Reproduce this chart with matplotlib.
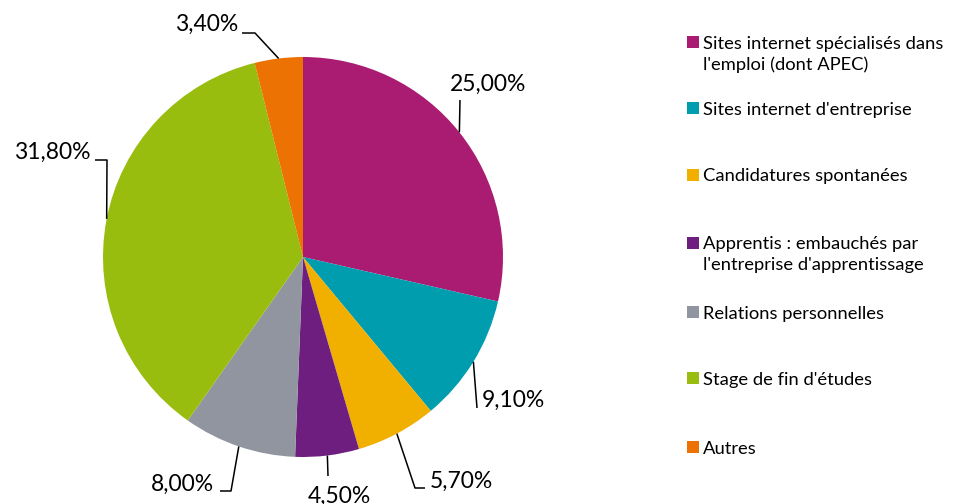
import numpy as np
import matplotlib
matplotlib.use("Agg")
import matplotlib.pyplot as plt
from matplotlib.patches import Rectangle

plt.rcParams['font.family'] = ['Lato', 'DejaVu Sans']

# donnees
categories = [
    "Sites internet spécialisés dans\nl'emploi (dont APEC)",
    "Sites internet d'entreprise",
    "Candidatures spontanées",
    "Apprentis : embauchés par\nl'entreprise d'apprentissage",
    "Relations personnelles",
    "Stage de fin d'études",
    "Autres",
]
values = [25.0, 9.1, 5.7, 4.5, 8.0, 31.8, 3.4]
labels = ["25,00%", "9,10%", "5,70%", "4,50%", "8,00%", "31,80%", "3,40%"]
colors = ['#AA1C72', '#009DAE', '#F1AF00', '#6E1E7E', '#9195A0', '#99BD0F', '#EC7203']

W, H = 964, 504
fig = plt.figure(figsize=(W / 100, H / 100), dpi=100)
ax = fig.add_axes([0, 0, 1, 1])

cx, cy, r = 303, H - 257, 200
wedges, _ = ax.pie(values, colors=colors, startangle=90, counterclock=False,
                   center=(cx, cy), radius=r, frame=True,
                   wedgeprops=dict(linewidth=0))
ax.set_xlim(0, W)
ax.set_ylim(0, H)
ax.set_aspect('equal')
ax.axis('off')

def Y(y):
    return H - y

# etiquettes : (coude/fin de ligne en px image, position texte, alignement)
anchor_override = {5: 169}
leaders = [
    ([(460, 100)], (488, 84), 'center'),
    ([(477, 408)], (482, 400), 'left'),
    ([(415, 488), (425, 488)], (430, 481), 'left'),
    ([(328, 476)], (339, 496), 'center'),
    ([(231, 491), (220, 491)], (214, 484), 'right'),
    ([(107, 160), (95, 160)], (91, 152), 'right'),
    ([(255, 33), (242, 33)], (238, 24), 'right'),
]
for i, w in enumerate(wedges):
    ang = anchor_override.get(i, (w.theta1 + w.theta2) / 2)
    ax_ = cx + r * np.cos(np.radians(ang))
    ay_ = cy + r * np.sin(np.radians(ang))
    pts, tpos, ha = leaders[i]
    xs = [ax_] + [p[0] for p in pts]
    ys = [ay_] + [Y(p[1]) for p in pts]
    ax.plot(xs, ys, color='black', lw=1.1, solid_capstyle='butt')
    ax.text(tpos[0], Y(tpos[1]), labels[i], ha=ha, va='center', fontsize=16.5)

# legende
leg_y = [42, 108, 175, 243, 312, 378, 447]
for name, col, y in zip(categories, colors, leg_y):
    ax.add_patch(Rectangle((687, Y(y) - 6), 12, 12, color=col, lw=0))
    ax.text(703, Y(y) + 6.5, name, ha='left', va='top', fontsize=13.2,
            linespacing=1.35)

fig.savefig('out.png', dpi=100)
